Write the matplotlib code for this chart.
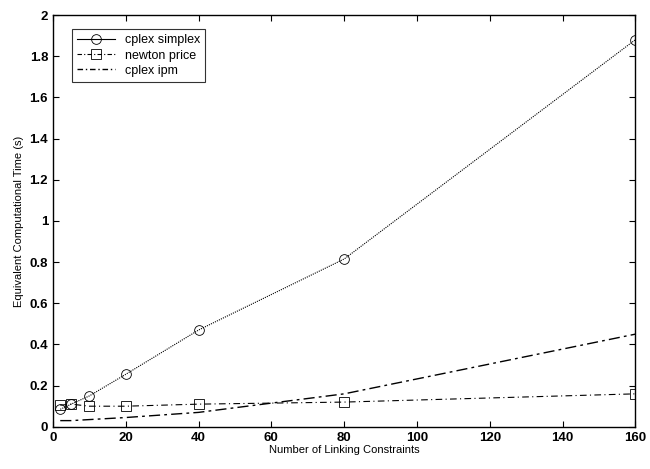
import matplotlib
matplotlib.use("Agg")
import matplotlib.pyplot as plt
from matplotlib.lines import Line2D

plt.rcParams["font.family"] = ["Liberation Sans", "DejaVu Sans"]

links = [2, 5, 10, 20, 40, 80, 160]
simplex = [0.085, 0.11, 0.15, 0.255, 0.47, 0.815, 1.88]
newton = [0.105, 0.11, 0.10, 0.10, 0.11, 0.12, 0.16]
ipm = [0.03, 0.03, 0.035, 0.045, 0.07, 0.16, 0.45]
names = ["cplex simplex", "newton price", "cplex ipm"]

fig = plt.figure(figsize=(6.5, 4.69), dpi=100)
ax = fig.add_axes([0.0815, 0.09, 0.896, 0.878])

ax.plot(links, simplex, color="k", ls=(0, (1, 1)), lw=0.8, marker="o", ms=7,
        mfc="none", mew=0.6)
ax.plot(links, newton, color="k", ls=(0, (6, 3, 1, 3)), lw=0.8, marker="s", ms=7,
        mfc="none", mew=0.6)
ax.plot(links, ipm, color="k", ls=(0, (8, 3, 2, 3)), lw=1.0)

ax.set_xlim(0, 160)
ax.set_ylim(0, 2)
ax.set_xticks(range(0, 161, 20))
ax.set_yticks([0, 0.2, 0.4, 0.6, 0.8, 1, 1.2, 1.4, 1.6, 1.8, 2])
ax.set_yticklabels(["0", "0.2", "0.4", "0.6", "0.8", "1", "1.2", "1.4", "1.6", "1.8", "2"])
ax.tick_params(direction="in", top=True, right=True, labelsize=9.5, length=4)
for lab in ax.get_xticklabels() + ax.get_yticklabels():
    lab.set_fontweight("bold")
for sp in ax.spines.values():
    sp.set_linewidth(1.0)

ax.set_xlabel("Number of Linking Constraints", fontsize=8, labelpad=1)
ax.set_ylabel("Equivalent Computational Time (s)", fontsize=8, labelpad=4)

handles = [
    Line2D([], [], color="k", lw=0.8, marker="o", ms=7, mfc="none", mew=0.6),
    Line2D([], [], color="k", lw=0.8, ls=(0, (4, 2, 1, 2)), marker="s", ms=7, mfc="none", mew=0.6),
    Line2D([], [], color="k", lw=1.0, ls=(0, (4, 2, 1, 2))),
]
leg = ax.legend(handles, names, loc="upper left", fontsize=9, frameon=True, fancybox=False,
                edgecolor="k", handlelength=3, borderpad=0.4, labelspacing=0.25,
                bbox_to_anchor=(0.022, 0.98))
leg.get_frame().set_linewidth(0.8)

fig.savefig("out.png", dpi=100)
